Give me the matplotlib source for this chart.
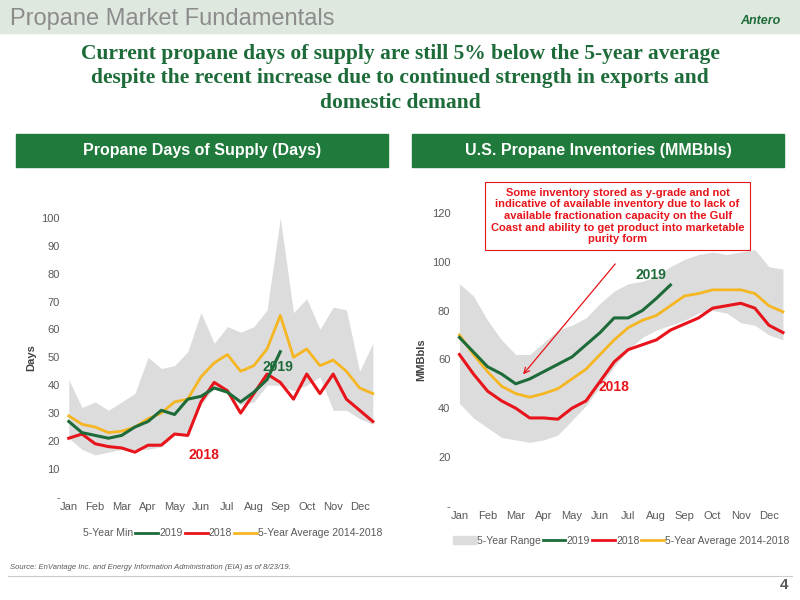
import numpy as np
import matplotlib.pyplot as plt
from matplotlib.patches import Rectangle, Patch
from matplotlib.lines import Line2D

months = ['Jan','Feb','Mar','Apr','May','Jun','Jul','Aug','Sep','Oct','Nov','Dec']

# Left chart: Propane days of supply (half-month samples)
ds_max = [42,32,34,31,34,37,50,46,47,52,66,55,61,59,61,67,100,66,71,60,68,67,45,55]
ds_min = [21,17,15,16,17,17,17,18,22,23,33,39,37,33,34,40,40,38,40,43,31,31,28,26]
ds_2018 = [21,22.5,19,18,17.5,16,18.5,18.5,22.5,22,34,41,38,30,37,44,41,35,44,37,44,35,31,27]
ds_2019 = [27,23,22,21,22,25,27,31,29.5,35,36,39,37.5,34,37.5,42,52]
ds_avg = [29,26,25,23,23.5,25,28,30,34,35,43,48,51,45,47,53,65,50,53,47,49,45,39,37]

# Right chart: US propane inventories (MMBbls)
inv_max = [91,86,76,68,62,62,67,72,74,77,83,88,91,92,94,98,101,103,104,103,104,105,98,97]
inv_min = [42,36,32,28,27,26,27,29,35,41,49,57,64,69,72,74,76,79,80,79,75,74,70,68]
inv_2018 = [62,54,47,43,40,36,36,35.5,40,43,51,59,64,66,68,72,74.5,77,81,82,83,81,74,71]
inv_2019 = [69,63,57,54,50,52,55,58,61,66,71,77,77,80,85,90.5]
inv_avg = [70,62,55,49,46,44.5,46,48,52,56,62,68,73,76,78,82,86,87,88.5,88.5,88.5,87,82,79.5]

GREEN = '#1e6b3a'; RED = '#e8141b'; YEL = '#f5b622'; GRAY = '#dcdcdc'
plt.rcParams['font.family'] = ['Liberation Sans', 'DejaVu Sans']

fig = plt.figure(figsize=(8, 6), dpi=100)
fig.patch.set_facecolor('white')

# header bar
fig.add_artist(Rectangle((0, 0.945), 1, 0.055, transform=fig.transFigure, color='#dfe8df', zorder=0))
fig.text(0.012, 0.968, 'Propane Market Fundamentals', fontsize=17, color='#8c8c8c', va='center')
fig.text(0.95, 0.965, 'Antero', fontsize=9, color=GREEN, fontweight='bold', fontstyle='italic', ha='center', va='center')
fig.text(0.5, 0.87, 'Current propane days of supply are still 5% below the 5-year average\n'
         'despite the recent increase due to continued strength in exports and\ndomestic demand',
         ha='center', va='center', fontsize=15.5, color=GREEN, fontweight='bold',
         family=['Liberation Serif', 'DejaVu Serif'], linespacing=1.3)

for x0, txt in [(0.02, 'Propane Days of Supply (Days)'), (0.515, 'U.S. Propane Inventories (MMBbls)')]:
    fig.add_artist(Rectangle((x0, 0.722), 0.465, 0.055, transform=fig.transFigure, color='#1f7a3c', zorder=1))
    fig.text(x0 + 0.2325, 0.749, txt, ha='center', va='center', color='white', fontsize=11.5, fontweight='bold', zorder=2)

def style(ax):
    for s in ax.spines.values():
        s.set_visible(False)
    ax.tick_params(length=0, labelsize=8, colors='#595959')
    ax.set_xticks(np.arange(12))
    ax.set_xticklabels(months)
    ax.set_xlim(-0.15, 11.65)

# Left
ax1 = fig.add_axes([0.081, 0.172, 0.39, 0.465])
x = np.arange(len(ds_max)) * 0.5
ax1.fill_between(x, ds_min, ds_max, color=GRAY, lw=0)
ax1.plot(x, ds_avg, color=YEL, lw=2)
ax1.plot(x, ds_2018, color=RED, lw=2.2)
ax1.plot(np.arange(len(ds_2019)) * 0.5, ds_2019, color=GREEN, lw=2.2)
ax1.set_ylim(0, 100)
ax1.set_yticks(range(0, 101, 10))
ax1.set_yticklabels(['-'] + [str(v) for v in range(10, 101, 10)])
ax1.set_ylabel('Days', fontsize=8, fontweight='bold', color='#404040')
style(ax1)
ax1.text(5.1, 13.5, '2018', color=RED, fontsize=10, fontweight='bold', ha='center')
ax1.text(7.9, 45, '2019', color=GREEN, fontsize=10, fontweight='bold', ha='center')
h1 = [Patch(color='white'), Line2D([], [], color=GREEN, lw=2), Line2D([], [], color=RED, lw=2), Line2D([], [], color=YEL, lw=2)]
ax1.legend(h1, ['5-Year Min', '2019', '2018', '5-Year Average 2014-2018'], loc='upper center',
           bbox_to_anchor=(0.5, -0.08), ncol=4, frameon=False, fontsize=7.5, handlelength=2.2,
           columnspacing=0.2, handletextpad=0.1, labelcolor='#595959')

# Right
ax2 = fig.add_axes([0.569, 0.157, 0.415, 0.488])
x = np.arange(len(inv_max)) * 0.5
ax2.fill_between(x, inv_min, inv_max, color=GRAY, lw=0)
ax2.plot(x, inv_avg, color=YEL, lw=2)
ax2.plot(x, inv_2018, color=RED, lw=2.2)
ax2.plot(np.arange(len(inv_2019)) * 0.5, inv_2019, color=GREEN, lw=2.2)
ax2.set_ylim(0, 120)
ax2.set_yticks(range(0, 121, 20))
ax2.set_yticklabels(['-'] + [str(v) for v in range(20, 121, 20)])
ax2.set_ylabel('MMBbls', fontsize=8, fontweight='bold', color='#404040')
style(ax2)
ax2.text(5.5, 47, '2018', color=RED, fontsize=10, fontweight='bold', ha='center')
ax2.text(6.8, 93, '2019', color=GREEN, fontsize=10, fontweight='bold', ha='center')
ax2.annotate('', xy=(2.2, 53), xytext=(5.6, 100),
             arrowprops=dict(arrowstyle='->', color=RED, lw=0.9))
fig.text(0.772, 0.64,
         'Some inventory stored as y-grade and not\nindicative of available inventory due to lack of\n'
         'available fractionation capacity on the Gulf\nCoast and ability to get product into marketable\npurity form',
         ha='center', va='center', fontsize=8, color=RED, fontweight='bold', linespacing=1.2,
         bbox=dict(boxstyle='square,pad=0.5', fc='white', ec=RED, lw=0.8))
h2 = [Patch(color=GRAY), Line2D([], [], color=GREEN, lw=2), Line2D([], [], color=RED, lw=2), Line2D([], [], color=YEL, lw=2)]
ax2.legend(h2, ['5-Year Range', '2019', '2018', '5-Year Average 2014-2018'], loc='upper center',
           bbox_to_anchor=(0.5, -0.07), ncol=4, frameon=False, fontsize=7.5, handlelength=2.2,
           columnspacing=0.2, handletextpad=0.1, labelcolor='#595959')

fig.text(0.012, 0.052, 'Source: EnVantage Inc. and Energy Information Administration (EIA) as of 8/23/19.',
         fontsize=5.5, fontstyle='italic', color='#595959')
fig.add_artist(Line2D([0.01, 0.99], [0.04, 0.04], transform=fig.transFigure, color='#cccccc', lw=0.8))
fig.text(0.985, 0.018, '4', fontsize=11, fontweight='bold', color='#595959', ha='right')

fig.savefig('out.png', dpi=100)
